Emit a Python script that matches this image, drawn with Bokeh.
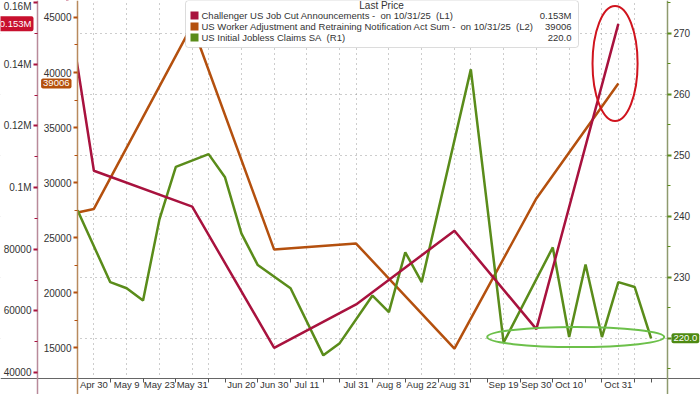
from bokeh.plotting import figure
from bokeh.models import Range1d, LinearAxis, FixedTicker, Label, BoxAnnotation
from bokeh.embed import file_html
from bokeh.resources import INLINE

# ---------------- data ----------------
tick_idx = [0, 2, 4, 6, 9, 11, 13, 16, 18, 20, 22, 25, 27, 29, 32]
tick_labels = ["Apr 30", "May 9", "May 23", "May 31", "Jun 20", "Jun 30", "Jul 11",
               "Jul 31", "Aug 8", "Aug 22", "Aug 31", "Sep 19", "Sep 30", "Oct 10", "Oct 31"]
grid_idx = [0, 2, 4, 6, 7, 9, 11, 13, 15, 16, 18, 20, 22, 23, 25, 27, 29, 31, 32, 33]
sep_idx = [-1, 1, 3, 5, 7, 8, 10, 12, 14, 15, 17, 19, 21, 23, 24, 26, 28, 30, 31, 33, 34]

monthly_idx = [-5, 0, 6, 11, 16, 22, 27, 32]
challenger = [275240, 105441, 93816, 47999, 62075, 85979, 54064, 153074]
warn_sum = [26000, 27600, 44300, 23900, 24450, 14900, 28550, 39006]

claims_idx = [-1, 1, 2, 3, 4, 5, 7, 8, 9, 10, 12, 14, 15, 17, 18, 19, 20, 23, 25, 28,
              29, 30, 31, 32, 33, 34]
claims = [241, 229.2, 228.2, 226.2, 239.5, 248.1, 250.2, 246.4, 237.2, 232, 228.2, 217.2,
          219.2, 227, 224.3, 234.1, 229.2, 264.1, 219.3, 234.9, 220.2, 232.1, 220.2, 229.2,
          228.4, 220.0]

l1_ticks = [40000, 60000, 80000, 100000, 120000, 140000, 160000]
l1_labels = ["40000", "60000", "80000", "0.1M", "0.12M", "0.14M", "0.16M"]
l2_ticks = [15000, 20000, 25000, 30000, 35000, 40000, 45000]
r1_ticks = [220, 230, 240, 250, 260, 270]

NB = "\u00a0"
series_names = ["Challenger US Job Cut Announcements -" + NB + " on 10/31/25" + NB + " (L1)",
                "US Worker Adjustment and Retraining Notification Act Sum -" + NB
                + " on 10/31/25" + NB + " (L2)",
                "US Initial Jobless Claims SA" + NB + " (R1)"]
last_values = ["0.153M", "39006", "220.0"]

# ---------------- styles / layout ----------------
RED = "#A8123E"
ORANGE = "#B4500E"
GREEN = "#5A8C1A"
TXT = "#333333"
FONT = "Liberation Sans"

W, H = 700, 394
DA_L, DA_R, DA_T, DA_B = 77, 667, 0, 378     # data area inside the canvas (px)
L1_AXIS_PX = 37                               # outer left axis position (px)

X_LO, X_HI = -1, 35
L2_LO, L2_HI = 12185, 46545
L1_LO, L1_HI = 38063, 160649
R1_LO, R1_HI = 213.4, 275.4

PPX = (DA_R - DA_L) / (X_HI - X_LO)


def xpx(cx):
    """canvas px -> x index"""
    return X_LO + (cx - DA_L) / PPX


def ext(lo, hi):
    k = (hi - lo) / (DA_B - DA_T)
    return lo - (H - DA_B) * k, hi + DA_T * k


xr = Range1d(xpx(0), xpx(W))
p = figure(width=W, height=H, x_range=xr, y_range=Range1d(*ext(L2_LO, L2_HI)),
           output_backend="svg", toolbar_location=None,
           min_border_top=0, min_border_right=0, min_border_left=0, min_border_bottom=0,
           background_fill_color="white", border_fill_color="white", outline_line_color=None)
p.extra_y_ranges = {"l1": Range1d(*ext(L1_LO, L1_HI)), "r1": Range1d(*ext(R1_LO, R1_HI))}


def style_axis(ax, line_color, tick_color):
    ax.level = "overlay"
    ax.axis_line_color = line_color
    ax.axis_line_width = 1.5
    ax.major_tick_line_color = tick_color
    ax.minor_tick_line_color = tick_color
    ax.major_tick_line_width = 2
    ax.major_tick_out = 4
    ax.major_tick_in = 0
    ax.minor_tick_out = 3
    ax.minor_tick_in = 0
    ax.major_label_text_font = FONT
    ax.major_label_text_font_size = "10px"
    ax.major_label_text_color = TXT
    ax.major_label_standoff = 2


# L2 (inner left, default)
l2 = p.yaxis[0]
l2.fixed_location = X_LO
l2.ticker = FixedTicker(ticks=l2_ticks,
                        minor_ticks=[t + 2500 for t in [12500] + l2_ticks])
l2.major_label_overrides = {t: str(t) for t in l2_ticks}
style_axis(l2, "#B98A5E", ORANGE)

# L1 (outer left)
l1 = LinearAxis(y_range_name="l1", fixed_location=xpx(L1_AXIS_PX))
l1.ticker = FixedTicker(ticks=l1_ticks, minor_ticks=[t + 10000 for t in l1_ticks])
l1.major_label_overrides = dict(zip(l1_ticks, l1_labels))
style_axis(l1, "#B98A9A", RED)
p.add_layout(l1, "left")

# R1 (right)
r1 = LinearAxis(y_range_name="r1", fixed_location=X_HI)
r1.ticker = FixedTicker(ticks=r1_ticks, minor_ticks=[t + 5 for t in [210] + r1_ticks])
r1.major_label_overrides = {t: str(t) for t in r1_ticks}
style_axis(r1, "#8E9A6E", GREEN)
p.add_layout(r1, "right")

# x axis
xa = p.xaxis[0]
xa.fixed_location = L2_LO
xa.level = "overlay"
xa.ticker = FixedTicker(ticks=tick_idx, minor_ticks=sep_idx)
xa.major_label_overrides = dict(zip(tick_idx, tick_labels))
xa.axis_line_color = "#666666"
xa.major_tick_out = 0
xa.major_tick_in = 0
xa.minor_tick_out = 4
xa.minor_tick_in = 0
xa.minor_tick_line_color = "#555555"
xa.major_label_text_font = FONT
xa.major_label_text_font_size = "9.5px"
xa.major_label_text_color = TXT
xa.major_label_standoff = -4

# grids
p.xgrid[0].ticker = FixedTicker(ticks=grid_idx)
p.xgrid[0].grid_line_color = "#9A9A9A"
p.xgrid[0].grid_line_dash = "1 4"
p.ygrid[0].y_range_name = "r1"
p.ygrid[0].ticker = FixedTicker(ticks=r1_ticks)
p.ygrid[0].grid_line_color = "#9A9A9A"
p.ygrid[0].grid_line_dash = "1 4"

# series
p.line(monthly_idx, warn_sum, line_color=ORANGE, line_width=2.5)
p.line(claims_idx, claims, line_color=GREEN, line_width=2.5, y_range_name="r1")
p.line(monthly_idx, challenger, line_color=RED, line_width=2.5, y_range_name="l1")

# highlight ellipses (annotations)
p.ellipse(x=[31.8], y=[140200], width=2.75, height=37300, fill_color=None,
          line_color="#D0141E", line_width=2, y_range_name="l1")
p.ellipse(x=[29.4], y=[220.2], width=10.8, height=3.3, fill_color=None,
          line_color="#6CC04A", line_width=2, y_range_name="r1")

# white masks: keep the series inside the data area (outside it lie the axes)
YB_LO, YB_HI = p.y_range.start, p.y_range.end
for (lft, rgt, top, bot) in [(xr.start - 1, X_LO, YB_HI + 1, YB_LO - 1),
                             (X_HI, xr.end + 1, YB_HI + 1, YB_LO - 1),
                             (xr.start - 1, xr.end + 1, L2_LO, YB_LO - 1)]:
    p.add_layout(BoxAnnotation(left=lft, right=rgt, top=top, bottom=bot,
                               fill_color="white", fill_alpha=1, line_color=None))


# helpers: convert reference picture position to data coordinates for annotations
def fx(ix):
    return xpx(ix)


def fy(iy):
    return L2_HI - (iy - DA_T) * (L2_HI - L2_LO) / (DA_B - DA_T)


# legend box
p.add_layout(BoxAnnotation(left=fx(185), right=fx(578), top=L2_HI, bottom=fy(47),
                           fill_color="white", fill_alpha=1, line_color="#8C8C8C",
                           line_width=1, border_radius=3))
p.add_layout(Label(x=fx(381), y=fy(5), text="Last Price", text_align="center",
                   text_baseline="middle", text_font=FONT,
                   text_font_size="10px", text_color=TXT))
row_y = [15, 26, 37]
for name, val, col, ry in zip(series_names, last_values, [RED, ORANGE, GREEN], row_y):
    p.add_layout(BoxAnnotation(left=fx(190), right=fx(198), top=fy(ry - 4), bottom=fy(ry + 4),
                               fill_color=col, fill_alpha=1, line_color=None))
    p.add_layout(Label(x=fx(201), y=fy(ry), text=name, text_align="left",
                       text_baseline="middle", text_font=FONT,
                       text_font_size="9.5px", text_color=TXT))
    p.add_layout(Label(x=fx(571), y=fy(ry), text=val, text_align="right",
                       text_baseline="middle", text_font=FONT,
                       text_font_size="9.5px", text_color=TXT))

# last value tags
tag_specs = [(xpx(L1_AXIS_PX - 4), challenger[-1], "l1", last_values[0], "#C8102E", "right"),
             (xpx(DA_L - 6), warn_sum[-1], "default", last_values[1], "#B5500B", "right"),
             (xpx(DA_R + 4), claims[-1], "r1", last_values[2], "#4E8A12", "left")]
for tx, ty, rng, txt, col, al in tag_specs:
    p.add_layout(Label(x=tx, y=ty, y_range_name=rng, text=txt, text_align=al,
                       text_baseline="middle", text_font=FONT, text_font_size="9.5px",
                       text_color="white", background_fill_color=col,
                       padding=2, border_radius=2, level="overlay"))

open("out.html", "w").write(file_html(p, INLINE))
